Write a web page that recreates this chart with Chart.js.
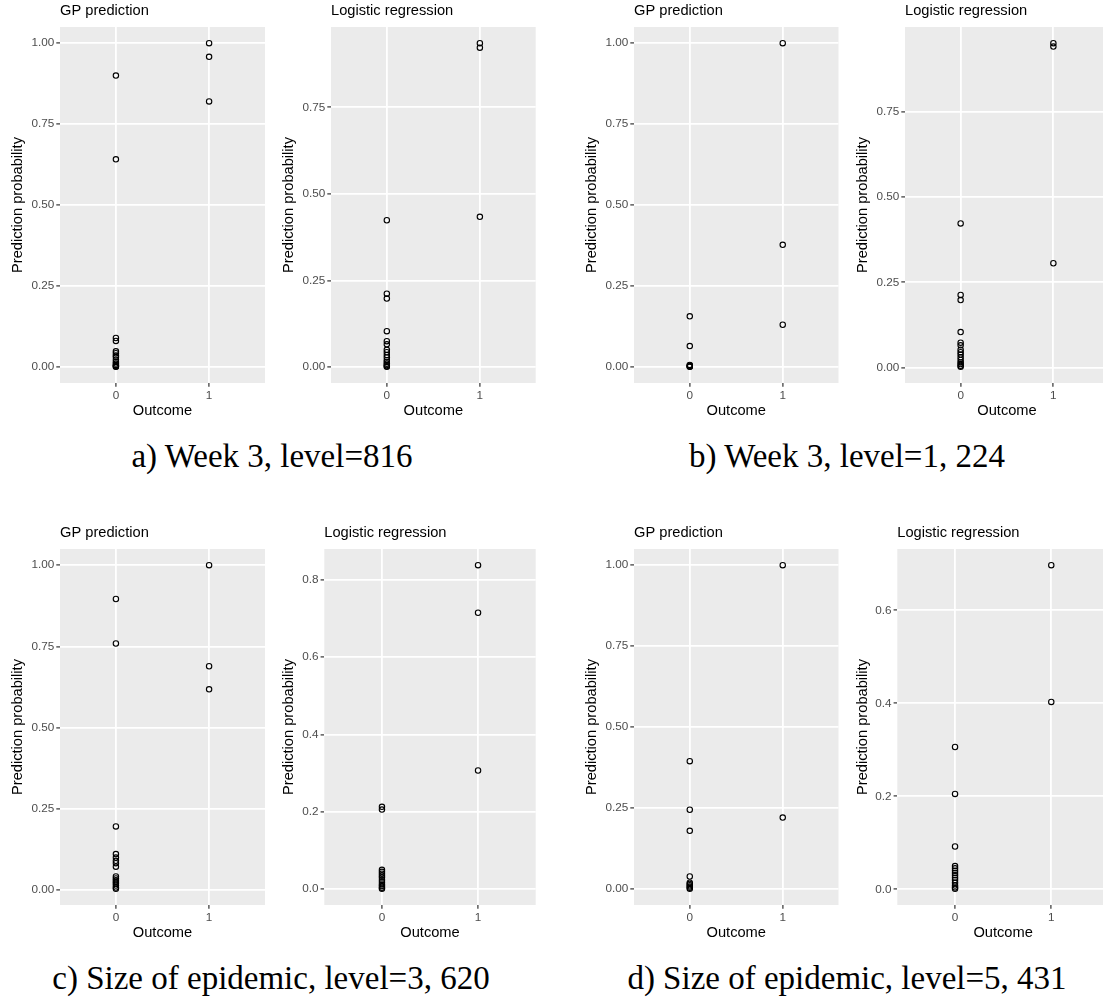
<!DOCTYPE html>
<html>
<head>
<meta charset="utf-8">
<script src="https://cdn.jsdelivr.net/npm/chart.js@4.4.1/dist/chart.umd.min.js"></script>
<style>
  html, body { margin: 0; padding: 0; background: #fff; }
  body { width: 1103px; height: 1001px; position: relative; overflow: hidden; }
  canvas { position: absolute; }
  .caption {
    position: absolute; width: 600px; margin-left: -300px; text-align: center;
    font-family: "Liberation Serif", serif; font-size: 33px; line-height: 33px;
    color: #000; white-space: nowrap;
  }
</style>
</head>
<body>
<div class="caption" style="left:272px; top:440px">a) Week 3, level=816</div>
<div class="caption" style="left:847px; top:440px">b) Week 3, level=1, 224</div>
<div class="caption" style="left:271px; top:962px">c) Size of epidemic, level=3, 620</div>
<div class="caption" style="left:847px; top:962px">d) Size of epidemic, level=5, 431</div>
<script>
const outcomes = ["0", "1"];

// a) Week 3, level=816
const gpWeek816No = [0.9, 0.641, 0.089, 0.08, 0.048, 0.042, 0.035, 0.03, 0.022, 0.015, 0.01, 0.006, 0.003, 0.001, 0.0];
const gpWeek816Yes = [1.0, 0.958, 0.82];
const lrWeek816No = [0.424, 0.212, 0.198, 0.104, 0.075, 0.066, 0.05, 0.043, 0.035, 0.028, 0.02, 0.015, 0.01, 0.006, 0.003, 0.001];
const lrWeek816Yes = [0.935, 0.922, 0.434];

// b) Week 3, level=1,224
const gpWeek1224No = [0.156, 0.064, 0.006, 0.004, 0.002, 0.001, 0.0];
const gpWeek1224Yes = [1.0, 0.377, 0.13];
const lrWeek1224No = [0.423, 0.213, 0.198, 0.104, 0.073, 0.065, 0.052, 0.045, 0.038, 0.03, 0.022, 0.015, 0.01, 0.005, 0.002];
const lrWeek1224Yes = [0.952, 0.942, 0.306];

// c) Size of epidemic, level=3,620
const gpSize3620No = [0.896, 0.759, 0.196, 0.111, 0.1, 0.09, 0.083, 0.072, 0.042, 0.036, 0.03, 0.025, 0.02, 0.014, 0.008, 0.004];
const gpSize3620Yes = [1.0, 0.689, 0.618];
const lrSize3620No = [0.213, 0.206, 0.05, 0.045, 0.04, 0.035, 0.03, 0.024, 0.018, 0.012, 0.008, 0.004, 0.001];
const lrSize3620Yes = [0.838, 0.715, 0.307];

// d) Size of epidemic, level=5,431
const gpSize5431No = [0.395, 0.245, 0.18, 0.039, 0.02, 0.016, 0.012, 0.008, 0.004, 0.001];
const gpSize5431Yes = [1.0, 0.221];
const lrSize5431No = [0.306, 0.205, 0.092, 0.05, 0.045, 0.04, 0.035, 0.03, 0.025, 0.02, 0.014, 0.008, 0.004, 0.001];
const lrSize5431Yes = [0.697, 0.403];

const gpTicks = ["0.00", "0.25", "0.50", "0.75", "1.00"];
const lrTicksWeek = ["0.00", "0.25", "0.50", "0.75"];
const lrTicks3620 = ["0.0", "0.2", "0.4", "0.6", "0.8"];
const lrTicks5431 = ["0.0", "0.2", "0.4", "0.6"];

const FONT = "'Liberation Sans', Arial, sans-serif";
const W = 271, H = 430;

// where each ggplot sits on the page, and its panel's left/right edge inside it
const panels = [
  { title: "GP prediction", no: gpWeek816No, yes: gpWeek816Yes, ticks: gpTicks, x: 0, y: 0, left: 60, right: 265 },
  { title: "Logistic regression", no: lrWeek816No, yes: lrWeek816Yes, ticks: lrTicksWeek, x: 271, y: 0, left: 60, right: 264.7 },
  { title: "GP prediction", no: gpWeek1224No, yes: gpWeek1224Yes, ticks: gpTicks, x: 574, y: 0, left: 60, right: 264.5 },
  { title: "Logistic regression", no: lrWeek1224No, yes: lrWeek1224Yes, ticks: lrTicksWeek, x: 845, y: 0, left: 60, right: 264 },
  { title: "GP prediction", no: gpSize3620No, yes: gpSize3620Yes, ticks: gpTicks, x: 0, y: 522, left: 60, right: 265 },
  { title: "Logistic regression", no: lrSize3620No, yes: lrSize3620Yes, ticks: lrTicks3620, x: 271, y: 522, left: 53.3, right: 264.7 },
  { title: "GP prediction", no: gpSize5431No, yes: gpSize5431Yes, ticks: gpTicks, x: 574, y: 522, left: 60, right: 264.5 },
  { title: "Logistic regression", no: lrSize5431No, yes: lrSize5431Yes, ticks: lrTicks5431, x: 845, y: 522, left: 52.3, right: 264 },
];

const panelBg = {
  id: "panelBg",
  beforeDraw(chart) {
    const { ctx, chartArea: a } = chart;
    ctx.save();
    ctx.fillStyle = "#EBEBEB";
    ctx.fillRect(a.left, a.top, a.right - a.left, a.bottom - a.top);
    ctx.restore();
  },
};

// ggplot style 5% expansion of the data range
function expandRange(vals) {
  const lo = Math.min(...vals);
  const hi = Math.max(...vals);
  const pad = (hi - lo) * 0.05;
  return [lo - pad, hi + pad];
}

function drawPanel(p) {
  const el = document.createElement("canvas");
  el.width = W;
  el.height = H;
  el.style.left = p.x + "px";
  el.style.top = p.y + "px";
  el.style.width = W + "px";
  el.style.height = H + "px";
  document.body.appendChild(el);

  const [lo, hi] = expandRange(p.no.concat(p.yes));
  const points = p.no.map(v => ({ x: Number(outcomes[0]), y: v }))
    .concat(p.yes.map(v => ({ x: Number(outcomes[1]), y: v })));

  new Chart(el, {
    type: "scatter",
    data: {
      datasets: [{
        data: points,
        pointRadius: 2.7,
        pointBorderWidth: 1.1,
        pointBorderColor: "#000000",
        pointBackgroundColor: "rgba(0,0,0,0)",
      }],
    },
    options: {
      responsive: false,
      animation: false,
      devicePixelRatio: 1,
      events: [],
      layout: { padding: { top: 0, left: 0, bottom: 0, right: W - p.right } },
      plugins: {
        legend: { display: false },
        tooltip: { enabled: false },
        title: {
          display: true,
          text: p.title,
          align: "start",
          fullSize: false,
          color: "#000000",
          font: { family: FONT, size: 14.67, weight: "normal" },
          padding: { top: 1.7, bottom: 7.7 },
        },
      },
      scales: {
        x: {
          type: "linear",
          min: -0.6,
          max: 1.6,
          afterBuildTicks: s => { s.ticks = outcomes.map(o => ({ value: Number(o) })); },
          afterFit: s => { s.height = 47; },
          ticks: {
            callback: (v, i) => outcomes[i],
            color: "#4D4D4D",
            font: { family: FONT, size: 11.73 },
            padding: 2,
            autoSkip: false,
            maxRotation: 0,
          },
          grid: { color: "#FFFFFF", lineWidth: 1.8, tickColor: "#333333", tickWidth: 1.2, tickLength: 3.7 },
          border: { display: false },
          title: {
            display: true,
            text: "Outcome",
            color: "#000000",
            font: { family: FONT, size: 14.67 },
            padding: { top: 0, bottom: 10.2 },
          },
        },
        y: {
          type: "linear",
          min: lo,
          max: hi,
          afterBuildTicks: s => { s.ticks = p.ticks.map(t => ({ value: parseFloat(t) })); },
          afterFit: s => { s.width = p.left; },
          ticks: {
            callback: (v, i) => p.ticks[i],
            color: "#4D4D4D",
            font: { family: FONT, size: 11.73 },
            padding: 2,
            autoSkip: false,
          },
          grid: { color: "#FFFFFF", lineWidth: 1.8, tickColor: "#333333", tickWidth: 1.2, tickLength: 3.7 },
          border: { display: false },
          title: {
            display: true,
            text: "Prediction probability",
            color: "#000000",
            font: { family: FONT, size: 14.67 },
            padding: { top: 8.7, bottom: 0 },
          },
        },
      },
    },
    plugins: [panelBg],
  });
}

panels.forEach(drawPanel);
</script>
</body>
</html>
